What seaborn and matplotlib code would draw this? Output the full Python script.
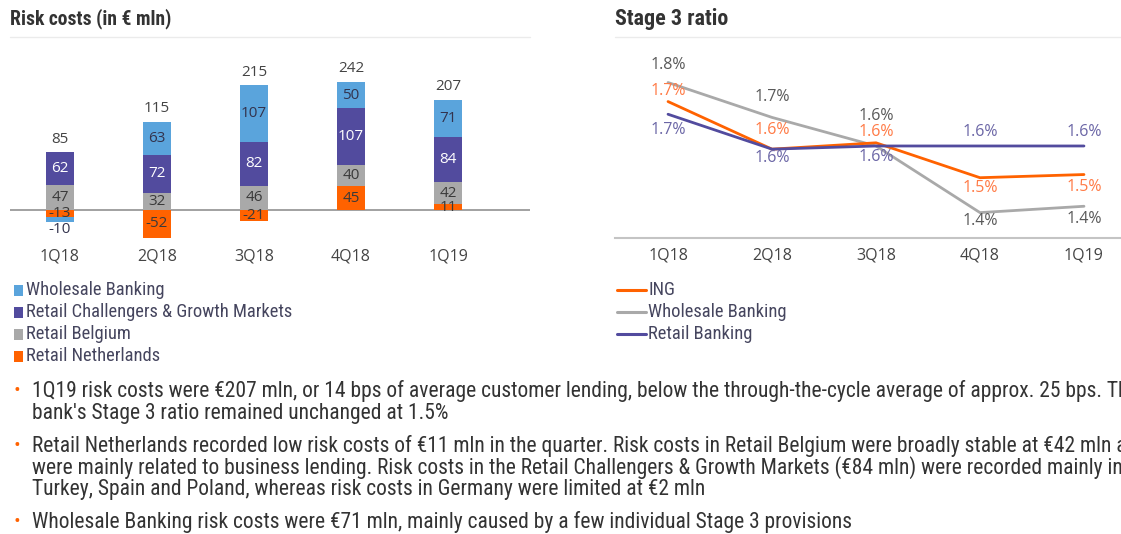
import matplotlib
matplotlib.use("Agg")
import numpy as np
import pandas as pd
import seaborn as sns
import matplotlib.pyplot as plt
from matplotlib.patches import Rectangle
from matplotlib.lines import Line2D
from matplotlib import font_manager
from matplotlib.font_manager import FontProperties

quarters = ["1Q18", "2Q18", "3Q18", "4Q18", "1Q19"]

# risk costs by segment (EUR mln)
retail_nl = [-13, -52, -21, 45, 11]
retail_be = [47, 32, 46, 40, 42]
retail_cgm = [62, 72, 82, 107, 84]
wholesale = [-10, 63, 107, 50, 71]
totals = [85, 115, 215, 242, 207]

# stage 3 ratio (%)
ing_ratio = [1.74, 1.59, 1.61, 1.50, 1.51]
wb_ratio = [1.80, 1.69, 1.60, 1.39, 1.41]
rb_ratio = [1.70, 1.59, 1.60, 1.60, 1.60]

bar_legend = ["Wholesale Banking", "Retail Challengers & Growth Markets",
              "Retail Belgium", "Retail Netherlands"]
line_legend = ["ING", "Wholesale Banking", "Retail Banking"]

bullets = [
    ["1Q19 risk costs were €207 mln, or 14 bps of average customer lending, below the through-the-cycle average of approx. 25 bps. The",
     "bank's Stage 3 ratio remained unchanged at 1.5%"],
    ["Retail Netherlands recorded low risk costs of €11 mln in the quarter. Risk costs in Retail Belgium were broadly stable at €42 mln and",
     "were mainly related to business lending. Risk costs in the Retail Challengers & Growth Markets (€84 mln) were recorded mainly in",
     "Turkey, Spain and Poland, whereas risk costs in Germany were limited at €2 mln"],
    ["Wholesale Banking risk costs were €71 mln, mainly caused by a few individual Stage 3 provisions"],
]

ORANGE = "#ff6200"
LBLUE = "#5aa4dc"
PURPLE = "#524b9e"
GRAY = "#a9a9a9"

sns.set_style("white")
plt.rcParams["font.family"] = ["Open Sans", "DejaVu Sans"]


def narrow_font(weight="normal"):
    names = {f.name for f in font_manager.fontManager.ttflist}
    for n in ["Liberation Sans Narrow", "Roboto Condensed", "Open Sans Condensed"]:
        if n in names:
            return FontProperties(family=n, weight=weight)
    for f in font_manager.fontManager.ttflist:
        if "condensed" in str(f.stretch) and f.name in ("DejaVu Sans", "Noto Sans", "Open Sans", "Roboto"):
            return FontProperties(family=f.name, stretch="condensed", weight=weight)
    return FontProperties(family="Liberation Sans", weight=weight)


W, H = 1121, 534
fig = plt.figure(figsize=(W / 100, H / 100), dpi=100)
renderer = fig.canvas.get_renderer()


def fitted(prop, text, width_px):
    p = prop.copy()
    p.set_size(10)
    w, _, _ = renderer.get_text_width_height_descent(text, p, ismath=False)
    p.set_size(10 * width_px / w)
    return p


def px_axes(x0, y0, x1, y1):
    return fig.add_axes([x0 / W, 1 - y1 / H, (x1 - x0) / W, (y1 - y0) / H])


# ---- titles and rules under them
fig.text(10 / W, 1 - 19 / H, "Risk costs (in € mln)",
         fontproperties=fitted(narrow_font("bold"), "Risk costs (in € mln)", 162),
         color="#333333", va="center")
fig.text(615 / W, 1 - 19 / H, "Stage 3 ratio",
         fontproperties=fitted(narrow_font("bold"), "Stage 3 ratio", 113),
         color="#333333", va="center")
for x0, x1 in [(10, 530), (615, 1121)]:
    fig.add_artist(Line2D([x0 / W, x1 / W], [1 - 37 / H, 1 - 37 / H], color="#ebebeb", lw=1))

# ---- left: stacked risk costs
ax1 = px_axes(10, 40, 530, 240)
series = [
    (retail_nl, ORANGE, "#3a3a3a"),
    (retail_be, GRAY, "#3a3a3a"),
    (retail_cgm, PURPLE, "white"),
    (wholesale, LBLUE, "#33334d"),
]
pos = np.zeros(len(quarters))
neg = np.zeros(len(quarters))
for vals, col, tcol in series:
    vals = np.array(vals, dtype=float)
    bottom = np.where(vals >= 0, pos, neg)
    sns.barplot(x=quarters, y=vals, bottom=bottom, color=col, width=0.29,
                saturation=1, errorbar=None, linewidth=0, ax=ax1)
    for i, (v, b) in enumerate(zip(vals, bottom)):
        shift = -7 if (v < 0 and b < 0) else 0
        ax1.annotate(f"{v:.0f}", (i, b + v / 2), xytext=(0, shift), textcoords="offset points",
                     ha="center", va="center", fontsize=11, color=tcol)
    pos += np.where(vals >= 0, vals, 0)
    neg += np.where(vals < 0, vals, 0)

for i, t in enumerate(totals):
    ax1.annotate(f"{t}", (i, pos[i]), xytext=(0, 4), textcoords="offset points",
                 ha="center", va="bottom", fontsize=11, color="#444444")

ax1.axhline(0, color="#9a9a9a", lw=1.3, zorder=0.5)
ax1.set_xlim(-0.515, 4.845)
ax1.set_ylim(-56.6, 320.8)
ax1.set_yticks([])
ax1.set_xlabel("")
ax1.set_ylabel("")
ax1.tick_params(axis="x", length=0, pad=6, labelsize=11.5, labelcolor="#444444")
sns.despine(ax=ax1, left=True, bottom=True)

# ---- right: stage 3 ratio lines
ax2 = px_axes(615, 40, 1121, 238)
ratio_df = pd.DataFrame({
    "quarter": quarters * 3,
    "ratio": wb_ratio + ing_ratio + rb_ratio,
    "series": ["Wholesale Banking"] * 5 + ["ING"] * 5 + ["Retail Banking"] * 5,
})
line_cols = {"Wholesale Banking": GRAY, "ING": ORANGE, "Retail Banking": PURPLE}
sns.lineplot(data=ratio_df, x="quarter", y="ratio", hue="series", palette=line_cols,
             linewidth=2, legend=False, ax=ax2)

label_style = [
    (wb_ratio, "#595959", [-18, -20, -30, 8, 13]),
    (ing_ratio, "#ff7a45", [-11, -19, -11, 10, 12]),
    (rb_ratio, "#6b66a6", [16, 9, 11, -14, -14]),
]
for vals, col, dys in label_style:
    for i, (v, dy) in enumerate(zip(vals, dys)):
        ax2.annotate(f"{v:.1f}%", (i, v), xytext=(0, -dy * 0.72), textcoords="offset points",
                     ha="center", va="center", fontsize=11.5, color=col)

ax2.set_xlim(-0.51, 4.356)
ax2.set_ylim(1.310, 1.934)
ax2.set_yticks([])
ax2.set_xlabel("")
ax2.set_ylabel("")
ax2.tick_params(axis="x", length=0, pad=7, labelsize=11.5, labelcolor="#444444")
sns.despine(ax=ax2, left=True)
ax2.spines["bottom"].set_color("#c4c4c4")
ax2.spines["bottom"].set_linewidth(1.5)

# ---- legends (drawn by hand to match the slide layout)
leg_font = fitted(narrow_font(), "Retail Challengers & Growth Markets", 266)
rows = [290, 312, 334, 356]
for y, name, col in zip(rows, bar_legend, [LBLUE, PURPLE, GRAY, ORANGE]):
    fig.add_artist(Rectangle((14 / W, 1 - (y + 6) / H), 9 / W, 11 / H,
                             facecolor=col, edgecolor="none", transform=fig.transFigure))
    fig.text(26 / W, 1 - y / H, name, fontproperties=leg_font, color="#45455e", va="center")
for y, name, col in zip(rows, line_legend, [ORANGE, GRAY, PURPLE]):
    fig.add_artist(Line2D([617 / W, 646 / W], [1 - y / H, 1 - y / H], color=col, lw=2.2))
    fig.text(648 / W, 1 - y / H, name, fontproperties=leg_font, color="#45455e", va="center")

# ---- bullet text
body_font = fitted(narrow_font(),
                   "1Q19 risk costs were €207 mln, or 14 bps of average customer lending, below the through-the-cycle average of approx. 25 bps. T",
                   1083)
starts = [391, 446, 522]
for y0, lines in zip(starts, bullets):
    fig.text(17 / W, 1 - y0 / H, "•", color=ORANGE, fontsize=13, va="center", ha="center")
    for k, line in enumerate(lines):
        fig.text(32 / W, 1 - (y0 + 22 * k) / H, line, fontproperties=body_font,
                 color="#333333", va="center")

fig.savefig("out.png", dpi=100)
